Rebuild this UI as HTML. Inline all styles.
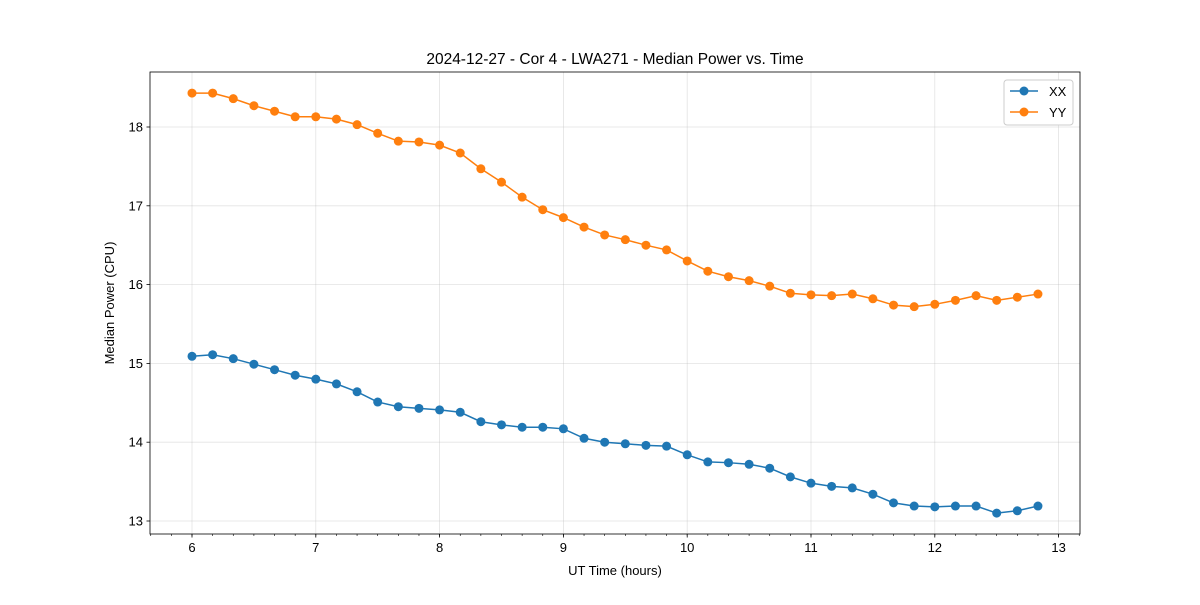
<!DOCTYPE html>
<html><head><meta charset="utf-8"><style>
body{margin:0;background:#fff;font-family:"Liberation Sans","DejaVu Sans",sans-serif}
</style></head><body>
<svg id="chart" width="1200" height="600" xmlns="http://www.w3.org/2000/svg" font-family="Liberation Sans, DejaVu Sans, sans-serif"></svg>
<script>
const xs = [];
for (let i = 0; i < 42; i++) xs.push(6 + i / 6);
const xxValues = [15.09,15.11,15.06,14.99,14.92,14.85,14.80,14.74,14.64,14.51,14.45,14.43,14.41,14.38,14.26,14.22,14.19,14.19,14.17,14.05,14.00,13.98,13.96,13.95,13.84,13.75,13.74,13.72,13.67,13.56,13.48,13.44,13.42,13.34,13.23,13.19,13.18,13.19,13.19,13.10,13.13,13.19];
const yyValues = [18.43,18.43,18.36,18.27,18.20,18.13,18.13,18.10,18.03,17.92,17.82,17.81,17.77,17.67,17.47,17.30,17.11,16.95,16.85,16.73,16.63,16.57,16.50,16.44,16.30,16.17,16.10,16.05,15.98,15.89,15.87,15.86,15.88,15.82,15.74,15.72,15.75,15.80,15.86,15.80,15.84,15.88];
const xTicks = [6,7,8,9,10,11,12,13];
const yTicks = [13,14,15,16,17,18];

const NS = "http://www.w3.org/2000/svg";
const svg = document.getElementById('chart');
const L=150,R=1080,T=72,B=534;
const xS = v => 192 + (v-6)*123.8;
const yS = v => 521 - (v-13)*78.8;
function el(tag, attrs, parent){const e=document.createElementNS(NS,tag);for(const k in attrs)e.setAttribute(k,attrs[k]);(parent||svg).appendChild(e);return e;}

// grid
xTicks.forEach(t=>{const g=el('line',{x1:xS(t),x2:xS(t),y1:T,y2:B,stroke:'#b0b0b0','stroke-opacity':0.35,'stroke-width':0.8});

});
yTicks.forEach(t=>{const g=el('line',{x1:L,x2:R,y1:yS(t),y2:yS(t),stroke:'#b0b0b0','stroke-opacity':0.35,'stroke-width':0.8});

});

// series
function series(vals,color,name){
  const pts = vals.map((v,i)=>xS(xs[i])+','+yS(v)).join(' ');
  const pl = el('polyline',{points:pts,fill:'none',stroke:color,'stroke-width':1.5});
  
  
  vals.forEach((v,i)=>{const c=el('circle',{cx:xS(xs[i]),cy:yS(v),r:4.5,fill:color});
  
  });
}
series(xxValues,'#1f77b4','xx');
series(yyValues,'#ff7f0e','yy');

// axes frame
const fr = el('rect',{x:L,y:T,width:R-L,height:B-T,fill:'none',stroke:'#000','stroke-width':0.8});



// x ticks
xTicks.forEach(t=>{
  el('line',{x1:xS(t),x2:xS(t),y1:B,y2:B+3.5,stroke:'#000','stroke-width':0.8});
  const tx=el('text',{x:xS(t),y:B+18,'font-size':13,'text-anchor':'middle'});tx.textContent=t;
  
  
});
for(let v=6-2/6; v<13.2; v+=1/6){ if(xS(v)>L && xS(v)<R) el('line',{x1:xS(v),x2:xS(v),y1:B,y2:B+2,stroke:'#000','stroke-width':0.6}); }
// y ticks
yTicks.forEach(t=>{
  el('line',{x1:L,x2:L-3.5,y1:yS(t),y2:yS(t),stroke:'#000','stroke-width':0.8});
  const tx=el('text',{x:L-7,y:yS(t)+4.5,'font-size':13,'text-anchor':'end'});tx.textContent=t;
  
  
});

const title=el('text',{x:615,y:64,'font-size':15.5,'text-anchor':'middle'});title.textContent='2024-12-27 - Cor 4 - LWA271 - Median Power vs. Time';


const xl=el('text',{x:615,y:575,'font-size':13,'text-anchor':'middle'});xl.textContent='UT Time (hours)';


const yl=el('text',{x:114,y:303,'font-size':13,'text-anchor':'middle',transform:'rotate(-90 114 303)'});yl.textContent='Median Power (CPU)';



// legend
const lg=el('g',{});


el('rect',{x:1004,y:80,width:69,height:45,rx:3,fill:'#fff',stroke:'#ccc','stroke-width':1},lg);
[['XX','#1f77b4',91],['YY','#ff7f0e',112]].forEach(([n,c,y])=>{
  const g=el('g',{},lg);
  
  
  el('line',{x1:1010,x2:1038,y1:y,y2:y,stroke:c,'stroke-width':1.5},g);
  el('circle',{cx:1024,cy:y,r:4.5,fill:c},g);
  const t=el('text',{x:1049,y:y+5,'font-size':13},g);t.textContent=n;
});
</script>
</body></html>
